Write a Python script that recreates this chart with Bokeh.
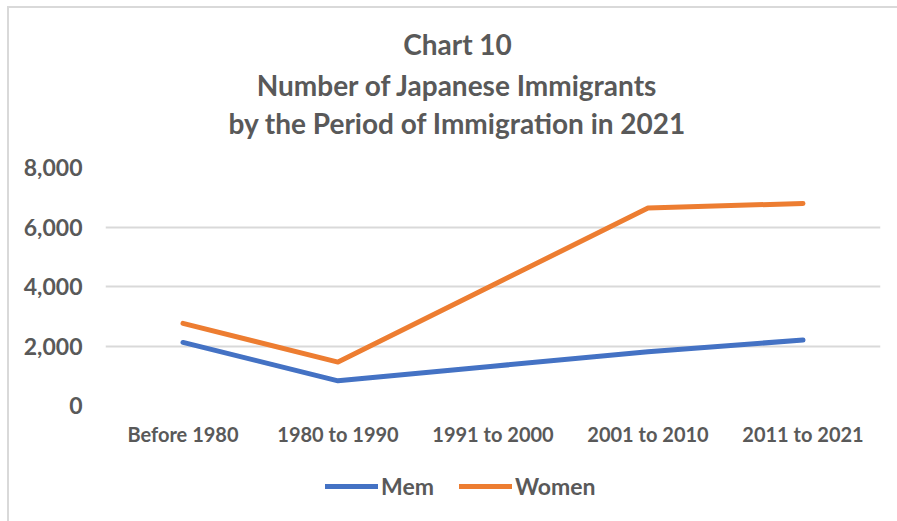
from bokeh.plotting import figure
from bokeh.models import (FactorRange, Range1d, NumeralTickFormatter, Label, Legend, LegendItem,
                          FixedTicker)
from bokeh.layouts import column
from bokeh.embed import file_html
from bokeh.resources import INLINE

periods = ["Before 1980", "1980 to 1990", "1991 to 2000", "2001 to 2010", "2011 to 2021"]
men = [2120, 830, 1320, 1810, 2200]
women = [2760, 1460, 4050, 6640, 6790]
y_ticks = [0, 2000, 4000, 6000, 8000]
title_lines = ["Chart 10", "Number of Japanese Immigrants", "by the Period of Immigration in 2021"]
series_names = ["Mem", "Women"]
series_colors = ["#4472C4", "#ED7D31"]

FONT = "Lato"
GRAY = "#595959"
BORDER = "#d9d9d9"
W = 888  # width of each strip (page width minus the chart border offset)


def blank(fig):
    fig.axis.visible = False
    fig.grid.visible = False
    fig.outline_line_color = None
    fig.border_fill_color = "white"
    return fig


# title strip: its frame spans page pixels x 105..880, y 8..152
tf = blank(figure(width=W, height=144, output_backend="svg", toolbar_location=None,
                  min_border_left=96, min_border_right=17, min_border_top=0, min_border_bottom=0,
                  x_range=Range1d(105, 880), y_range=Range1d(152, 8)))
title_baselines = [43, 84, 122]
for t, ty in zip(title_lines, title_baselines):
    tf.add_layout(Label(x=457, y=ty, text=t, text_align="center", text_baseline="alphabetic",
                        text_font=FONT, text_font_size="28px", text_font_style="bold",
                        text_color=GRAY))

# main chart
p = figure(width=W, height=310, x_range=FactorRange(*periods, range_padding=0),
           y_range=Range1d(0, 8000), output_backend="svg", toolbar_location=None,
           min_border_left=96, min_border_right=17, min_border_top=15, min_border_bottom=57)
p.outline_line_color = None
p.border_fill_color = "white"

for vals, c in zip([men, women], series_colors):
    p.line(periods, vals, line_color=c, line_width=5, line_cap="round", line_join="round")

p.yaxis.ticker = FixedTicker(ticks=y_ticks)
p.yaxis.formatter = NumeralTickFormatter(format="0,0")
for ax in (p.xaxis[0], p.yaxis[0]):
    ax.axis_line_color = None
    ax.major_tick_line_color = None
    ax.minor_tick_line_color = None
    ax.major_label_text_font = FONT
    ax.major_label_text_font_style = "bold"
    ax.major_label_text_color = GRAY
p.yaxis.major_label_text_font_size = "23px"
p.xaxis.major_label_text_font_size = "20px"
p.yaxis.major_label_standoff = 17
p.xaxis.major_label_standoff = 10

p.xgrid.grid_line_color = None
p.ygrid.grid_line_color = BORDER
p.ygrid.grid_line_width = 2
p.ygrid.ticker = FixedTicker(ticks=y_ticks)

# legend strip
lg = blank(figure(width=W, height=59, output_backend="svg", toolbar_location=None,
                  min_border_left=96, min_border_right=17, min_border_top=0, min_border_bottom=0,
                  x_range=Range1d(0, 1), y_range=Range1d(0, 1)))
items = []
for name, c in zip(series_names, series_colors):
    r = lg.line([float("nan")], [float("nan")], line_color=c, line_width=5, line_cap="round")
    items.append(LegendItem(label=name, renderers=[r]))
legend = Legend(items=items, orientation="horizontal", location=(220, 21), border_line_color=None,
                background_fill_alpha=0, padding=0, margin=0,
                label_text_font=FONT, label_text_font_style="bold", label_text_font_size="23px",
                label_text_color=GRAY, glyph_width=53, spacing=25, label_standoff=3)
lg.add_layout(legend, "center")

layout = column(tf, p, lg, spacing=0, margin=(6, 0, 0, 7),
                styles={"border-left": f"2px solid {BORDER}", "border-top": f"2px solid {BORDER}"})
open("out.html", "w").write(file_html(layout, INLINE))
